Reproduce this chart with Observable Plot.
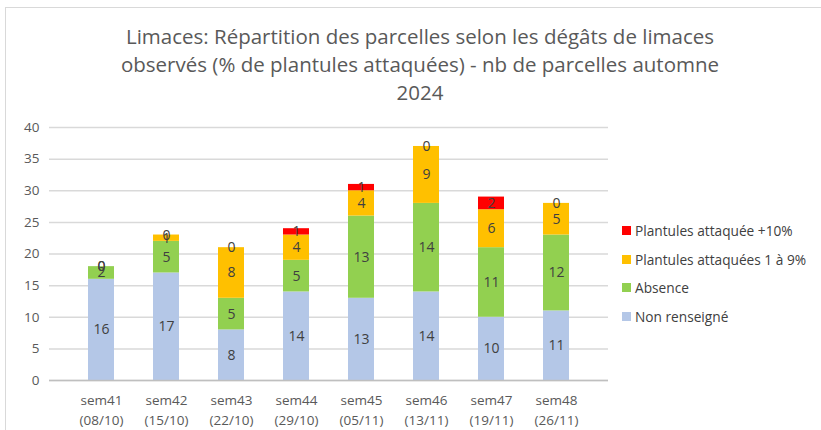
<!DOCTYPE html>
<html><head><meta charset="utf-8">
<script src="https://cdn.jsdelivr.net/npm/d3@7"></script>
<script src="https://cdn.jsdelivr.net/npm/@observablehq/plot@0.6"></script>
<style>
body{margin:0;background:#fff;font-family:"Open Sans",sans-serif;}
#wrap{position:relative;width:821px;height:430px;overflow:hidden;}
#frame{position:absolute;left:5px;top:7px;width:830px;height:440px;border:1px solid #d9d9d9;}
#title{position:absolute;left:0;top:22px;width:840px;text-align:center;font-size:20.5px;line-height:28px;color:#595959;}
#chart{position:absolute;left:0;top:0;}
#legend{position:absolute;left:622px;top:216px;font-size:13.7px;color:#404040;}
.li{display:flex;align-items:center;height:28.7px;}
.sw{width:9px;height:9px;margin-right:4px;}
</style></head>
<body><div id="wrap"><div id="frame"></div><div id="title"></div><div id="chart"></div><div id="legend"></div></div>
<script>
const weeks = ["sem41","sem42","sem43","sem44","sem45","sem46","sem47","sem48"];
const dates = ["08/10","15/10","22/10","29/10","05/11","13/11","19/11","26/11"];
const series = ["Non renseigné","Absence","Plantules attaquées 1 à 9%","Plantules attaquée +10%"];
const colors = ["#b4c7e7","#92d050","#ffc000","#ff0000"];
const nonRenseigne = [16,17,8,14,13,14,10,11];
const absence = [2,5,5,5,13,14,11,12];
const att1a9 = [0,1,8,4,4,9,6,5];
const att10 = [0,0,0,1,1,0,2,0];
const yTicks = [0,5,10,15,20,25,30,35,40];
const title = "Limaces: Répartition des parcelles selon les dégâts de limaces<br>observés (% de plantules attaquées) - nb de parcelles automne<br>2024";

document.getElementById("title").innerHTML = title;
const vals = [nonRenseigne, absence, att1a9, att10];
const data = [];
series.forEach((s,i)=>weeks.forEach((w,j)=>data.push({week:w, series:s, value:vals[i][j]})));
const labelOf = Object.fromEntries(weeks.map((w,i)=>[w, w+"\n("+dates[i]+")"]));

const chart = Plot.plot({
  width: 620, height: 430,
  marginTop: 127, marginBottom: 50, marginLeft: 49, marginRight: 12,
  style:{fontFamily:"Open Sans", fontSize:"13.5px", color:"#595959", background:"transparent"},
  x:{domain:weeks, padding:0.6, label:null},
  y:{domain:[0,40], label:null},
  color:{domain:series, range:colors},
  marks:[
    Plot.gridY(yTicks, {stroke:"#d9d9d9", strokeOpacity:1, strokeWidth:1.5}),
    Plot.axisY(yTicks, {tickSize:0, tickPadding:10, fontSize:13.5}),
    Plot.axisX({tickSize:0, tickPadding:10, fontSize:13.5, lineHeight:1.5, tickFormat:d=>labelOf[d]}),
    Plot.barY(data, Plot.stackY({x:"week", y:"value", fill:"series", z:"series", order:series})),
    Plot.ruleY([0], {stroke:"#bfbfbf", strokeWidth:1.5}),
    Plot.text(data, Plot.stackY({x:"week", y:"value", z:"series", text:d=>String(d.value), order:series, fill:"#404040", fontSize:14}))
  ]
});
document.getElementById("chart").appendChild(chart);

const lg = document.getElementById("legend");
[3,2,1,0].forEach(i=>{
  const d = document.createElement("div"); d.className="li";
  d.innerHTML = `<div class="sw" style="background:${colors[i]}"></div><span>${series[i]}</span>`;
  lg.appendChild(d);
});
</script></body></html>
